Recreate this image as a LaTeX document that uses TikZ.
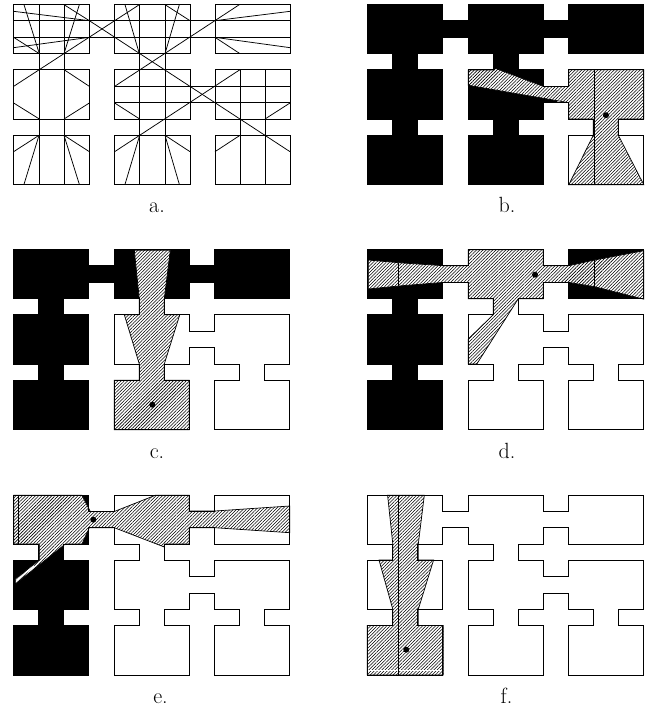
\documentclass[tikz,border=0pt]{standalone}
\usetikzlibrary{patterns.meta}
\newcommand\floorpath{(0,0)--(75.5,0)--(75.5,16)--(101,16)--(101,0)--(176,0)--(176,16)--(201.5,16)--(201.5,0)--(276.5,0)--(276.5,49)--(201.5,49)--(201.5,32.7)--(176,32.7)--(176,49)--(151,49)--(151,65)--(176,65)--(176,81.7)--(201.5,81.7)--(201.5,65)--(276.5,65)--(276.5,114.3)--(251,114.3)--(251,130.5)--(276.5,130.5)--(276.5,180)--(201.5,180)--(201.5,130.5)--(226,130.5)--(226,114.3)--(201.5,114.3)--(201.5,98)--(176,98)--(176,114.3)--(151,114.3)--(151,130.5)--(176,130.5)--(176,180)--(101,180)--(101,130.5)--(126,130.5)--(126,114.3)--(101,114.3)--(101,65)--(126,65)--(126,49)--(101,49)--(101,32.7)--(75.5,32.7)--(75.5,49)--(50.3,49)--(50.3,65)--(75.5,65)--(75.5,114.3)--(50.3,114.3)--(50.3,130.5)--(75.5,130.5)--(75.5,180)--(0,180)--(0,130.5)--(25.3,130.5)--(25.3,114.3)--(0,114.3)--(0,65)--(25.3,65)--(25.3,49)--(0,49)--cycle}
\newcommand\hatchpoly[1]{\fill[white] #1;\draw[hatched] #1;}
\newcommand\blackout[1]{\begin{scope}\clip \floorpath;\fill[black] #1;\end{scope}}
\tikzset{
  wall/.style={draw=black,line width=1pt,line join=miter},
  thinwall/.style={draw=black,line width=0.75pt},
  hatched/.style={draw=black,line width=0.7pt,pattern={Lines[angle=45,distance=2.3pt,line width=0.55pt]},pattern color=black},
  spot/.style={fill=black,draw=none},
  caption/.style={font=\fontsize{22}{24}\selectfont,anchor=base,inner sep=0pt}
}
\begin{document}
\begin{tikzpicture}[x=1pt,y=-1pt]
\useasboundingbox (0,0) rectangle (651,707);
\fill[white] (0,0) rectangle (651,707);
% panel a
\begin{scope}[x=0.33333pt,y=-0.33333pt]
\foreach \xa/\xb in {41/268,344/570,645/870}
  \foreach \ya/\yb in {14/161,209/357,406/553}
    \draw[thinwall] (\xa,\ya) rectangle (\xb,\yb);
\foreach \xx in {117,192,419,495} \draw[thinwall] (\xx,14)--(\xx,553);
\foreach \xx in {720,795} \draw[thinwall] (\xx,209)--(\xx,553);
\foreach \yy in {62,112} \draw[thinwall] (41,\yy)--(870,\yy);
\foreach \yy in {259,308} \draw[thinwall] (344,\yy)--(870,\yy);
\draw[thinwall] (41,34)--(268,62)--(870,455);
\draw[thinwall] (418,14)--(41,259);
\draw[thinwall] (718,14)--(344,259);
\draw[thinwall] (720,209)--(344,455);
\draw[thinwall] (41,112)--(118,161);
\draw[thinwall] (41,143)--(268,112);
\draw[thinwall] (72,14)--(118,161);
\draw[thinwall] (238,14)--(192,161);
\draw[thinwall] (192,14)--(268,62);
\draw[thinwall] (375,14)--(418,161);
\draw[thinwall] (538,14)--(495,161);
\draw[thinwall] (495,14)--(570,62);
\draw[thinwall] (645,62)--(870,34);
\draw[thinwall] (645,112)--(870,143);
\draw[thinwall] (645,112)--(720,161);
\draw[thinwall] (41,309)--(118,357);
\draw[thinwall] (268,309)--(192,357);
\draw[thinwall] (192,209)--(268,259);
\draw[thinwall] (344,309)--(419,357);
\draw[thinwall] (117,406)--(41,455);
\draw[thinwall] (117,406)--(72,553);
\draw[thinwall] (192,406)--(268,455);
\draw[thinwall] (192,406)--(238,553);
\draw[thinwall] (419,406)--(375,553);
\draw[thinwall] (495,406)--(570,455);
\draw[thinwall] (495,406)--(538,553);
\draw[thinwall] (720,406)--(645,455);
\draw[thinwall] (795,357)--(870,309);
\end{scope}
% panel b
\begin{scope}[shift={(367.3,4.7)}]
\blackout{(0,0) rectangle (276.5,49) (0,0) rectangle (190,180)}
\hatchpoly{(101,65.3)--(127,65.3)--(128,63.6)--(176,81.7)--(201.5,81.7)--(201.5,65)--(276.5,65)--(276.5,114.3)--(251,114.3)--(251,130.5)--(276.5,180)--(201.5,180)--(226,130.5)--(226,114.3)--(201.5,114.3)--(201.5,98)--(101,80.6)--cycle}
\draw[thinwall] (227,65)--(227,180);
\draw[wall] \floorpath;
\fill[spot] (238.7,110.5) circle (3pt);
\end{scope}
% panel c
\begin{scope}[shift={(13.3,249.7)}]
\blackout{(0,0) rectangle (276.5,49) (0,0) rectangle (88,180)}
\hatchpoly{(121,0.5)--(157,0.5)--(151,49)--(151,65)--(166.5,65)--(151,114.3)--(151,130.5)--(176,130.5)--(176,180)--(101,180)--(101,130.5)--(126,130.5)--(126,114.3)--(111,65)--(126,65)--(126,49)--cycle}
\draw[wall] \floorpath;
\fill[spot] (139,155) circle (3pt);
\end{scope}
% panel d
\begin{scope}[shift={(367.3,249.7)}]
\blackout{(0,0) rectangle (88,180) (190,0) rectangle (276.5,49)}
\hatchpoly{(1,10.3)--(31.3,13)--(76,16)--(101,16)--(101,0)--(176,0)--(176,16)--(201.5,16)--(227.3,10.3)--(276.5,1)--(276.5,49.5)--(227.3,37)--(201.5,32.7)--(176,32.7)--(176,49)--(151,49)--(109.5,114.3)--(101,114.3)--(101,89.3)--(126,65)--(126,49)--(101,49)--(101,32.7)--(76,32.7)--(31.3,36.3)--(1,39.3)--cycle}
\draw[thinwall] (31.3,13)--(31.3,36.3);
\draw[thinwall] (227.3,10.3)--(227.3,37);
\draw[wall] \floorpath;
\fill[spot] (167.7,25) circle (3pt);
\end{scope}
% panel e
\begin{scope}[shift={(13.3,495)}]
\blackout{(0,0) rectangle (88,180)}
\hatchpoly{(0.5,0.3)--(68.7,0.3)--(77,16.5)--(101,16.5)--(142,0.3)--(176,0.3)--(176,16)--(201.5,16)--(276.5,11)--(276.5,37.7)--(201.5,32.7)--(176,32.7)--(176,49)--(151,49)--(151,52)--(101,32.7)--(76,32.7)--(68.7,49)--(52,49)--(2,89)--(2,84)--(26,65)--(26,49)--(0.5,49)--cycle}
\draw[white,line width=1.3pt] (3,85.5)--(21,71);
\draw[thinwall] (5,0)--(5,49);
\draw[wall] \floorpath;
\fill[spot] (80,24.7) circle (3pt);
\end{scope}
% panel f
\begin{scope}[shift={(367.3,495)}]
\hatchpoly{(20.3,0.3)--(57,0.3)--(51,49)--(51,65)--(66.3,65)--(51,114.3)--(51,130.5)--(76,130.5)--(76,180)--(0,180)--(0,130.5)--(25.5,130.5)--(25.5,114.3)--(11.7,65)--(25.5,65)--(25.5,49)--cycle}
\draw[white,line width=0.6pt] (1,175)--(75,175);
\draw[thinwall] (31.3,0)--(31.3,180);
\draw[wall] \floorpath;
\fill[spot] (39,154.7) circle (3pt);
\end{scope}
% captions
\node[caption] (capa) at (157,212.5) {a.};
\node[caption] (capb) at (507,212.5) {b.};
\node[caption] (capc) at (157,458) {c.};
\node[caption] (capd) at (507,458) {d.};
\node[caption] (cape) at (160.5,703) {e.};
\node[caption] (capf) at (506.5,703) {f.};
\end{tikzpicture}
\end{document}
